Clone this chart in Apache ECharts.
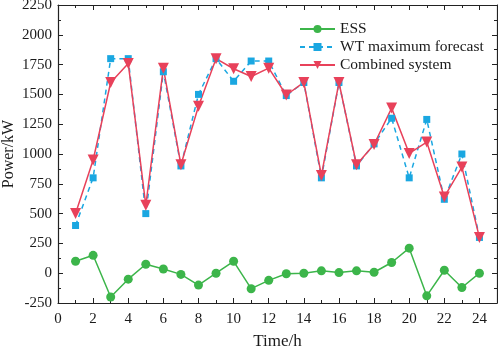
<!DOCTYPE html>
<html>
<head>
<meta charset="utf-8">
<script src="https://cdn.jsdelivr.net/npm/echarts@6/dist/echarts.min.js"></script>
<style>
  html, body { margin: 0; padding: 0; background: #fff; }
  #chart { width: 498px; height: 348px; }
</style>
</head>
<body>
<div id="chart"></div>
<script>
var hours = [1, 2, 3, 4, 5, 6, 7, 8, 9, 10, 11, 12, 13, 14, 15, 16, 17, 18, 19, 20, 21, 22, 23, 24];
var essPower = [100, 150, -200, -50, 75, 35, -10, -100, 0, 100, -130, -60, -5, 0, 20, 5, 20, 8, 90, 210, -190, 25, -120, 0];
var wtForecast = [400, 800, 1800, 1800, 500, 1690, 900, 1500, 1800, 1610, 1780, 1780, 1490, 1600, 800, 1600, 900, 1085, 1300, 800, 1290, 620, 1000, 300];
var combined = [500, 950, 1600, 1760, 570, 1720, 910, 1400, 1800, 1715, 1650, 1720, 1495, 1600, 820, 1600, 910, 1080, 1385, 1005, 1100, 640, 890, 300];

var serif = 'Liberation Serif';
var txt = '#1a1a1a';

function pairs(ys) {
  var out = [];
  for (var i = 0; i < hours.length; i++) out.push([hours[i], ys[i]]);
  return out;
}
// plain numbers, no thousands separator
function plain(v) { return String(v); }

var frameLine = { show: true, onZero: false, lineStyle: { color: '#222', width: 1.2 } };
var tick = { show: true, inside: true, length: 5, lineStyle: { color: '#222' } };
var minor = { show: true, splitNumber: 2, length: 3, lineStyle: { color: '#222' } };

var chart = echarts.init(document.getElementById('chart'));
chart.setOption({
  animation: false,
  grid: { left: 58, right: 1, top: 5, bottom: 45, containLabel: false, outerBoundsMode: 'none' },
  legend: {
    orient: 'vertical',
    left: 294,
    top: 16,
    itemWidth: 35,
    itemHeight: 10,
    itemGap: 2,
    textStyle: { fontFamily: serif, fontSize: 15.5, color: txt },
    data: ['ESS', 'WT maximum forecast', 'Combined system']
  },
  xAxis: [{
    type: 'value', min: 0, max: 25, interval: 2,
    name: 'Time/h', nameLocation: 'middle', nameGap: 30, nameMoveOverlap: false,
    nameTextStyle: { fontFamily: serif, fontSize: 17, color: txt },
    axisLine: frameLine, axisTick: tick, minorTick: minor,
    axisLabel: { fontFamily: serif, fontSize: 15, color: txt, margin: 9, showMaxLabel: false, formatter: plain },
    splitLine: { show: false }
  }, {
    type: 'value', position: 'top', min: 0, max: 25, interval: 2,
    axisLine: frameLine, axisTick: tick, minorTick: minor,
    axisLabel: { show: false }, splitLine: { show: false }
  }],
  yAxis: [{
    type: 'value', min: -250, max: 2250, interval: 250,
    name: 'Power/kW', nameLocation: 'middle', nameGap: 41, nameMoveOverlap: false,
    nameTextStyle: { fontFamily: serif, fontSize: 16, color: txt },
    axisLine: frameLine, axisTick: tick, minorTick: minor,
    axisLabel: { fontFamily: serif, fontSize: 15, color: txt, margin: 6, formatter: plain },
    splitLine: { show: false }
  }, {
    type: 'value', position: 'right', min: -250, max: 2250, interval: 250,
    axisLine: frameLine, axisTick: tick, minorTick: minor,
    axisLabel: { show: false }, splitLine: { show: false }
  }],
  series: [{
    name: 'ESS', type: 'line', data: pairs(essPower),
    symbol: 'circle', symbolSize: 9,
    itemStyle: { color: '#3cb54a' },
    lineStyle: { color: '#3cb54a', width: 1.5 }
  }, {
    name: 'WT maximum forecast', type: 'line', data: pairs(wtForecast),
    symbol: 'rect', symbolSize: 7,
    itemStyle: { color: '#1aa7e1' },
    lineStyle: { color: '#1aa7e1', width: 1.5, type: [5, 4] }
  }, {
    name: 'Combined system', type: 'line', data: pairs(combined),
    symbol: 'triangle', symbolRotate: 180, symbolSize: 11,
    itemStyle: { color: '#e8415a' },
    lineStyle: { color: '#e8415a', width: 1.5 }
  }]
});
</script>
</body>
</html>
